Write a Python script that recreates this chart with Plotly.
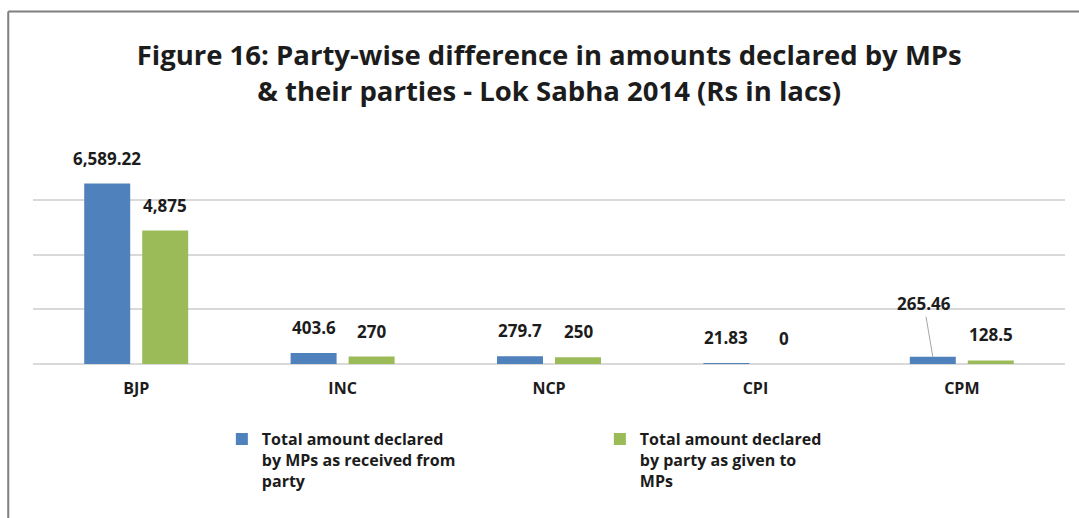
import plotly.graph_objects as go

parties = ["BJP", "INC", "NCP", "CPI", "CPM"]
mp_declared = [6589.22, 403.6, 279.7, 21.83, 265.46]
party_declared = [4875, 270, 250, 0, 128.5]
mp_labels = ["6,589.22", "403.6", "279.7", "21.83", "265.46"]
party_labels = ["4,875", "270", "250", "0", "128.5"]
series_names = ["Total amount declared<br>by MPs as received from<br>party",
                "Total amount declared<br>by party as given to<br>MPs"]
colors = ["#4F81BD", "#9BBB59"]

FONT = "Open Sans"
TXT = "#1c1c1c"
LBL = dict(family=FONT, size=17, color=TXT, weight="bold")

fig = go.Figure()
fig.add_trace(go.Bar(x=parties, y=mp_declared, name=series_names[0],
                     marker=dict(color=colors[0], line=dict(width=0))))
fig.add_trace(go.Bar(x=parties, y=party_declared, name=series_names[1],
                     marker=dict(color=colors[1], line=dict(width=0))))

annotations = []
for i, p in enumerate(parties):
    if p == "CPM":
        annotations.append(dict(x=p, y=mp_declared[i], xref="x", yref="y", xshift=-29,
                                text=mp_labels[i], showarrow=True, arrowhead=0,
                                arrowwidth=1, arrowcolor="#a6a6a6", ax=-9, ay=-53,
                                font=LBL))
    else:
        annotations.append(dict(x=p, y=mp_declared[i], xref="x", yref="y", xshift=-29,
                                yshift=12, yanchor="bottom", text=mp_labels[i],
                                showarrow=False, font=LBL))
    annotations.append(dict(x=p, y=party_declared[i], xref="x", yref="y", xshift=29,
                            yshift=12, yanchor="bottom", text=party_labels[i],
                            showarrow=False, font=LBL))

fig.update_layout(
    width=1079, height=518,
    paper_bgcolor="white", plot_bgcolor="white",
    margin=dict(l=33, r=14, t=145, b=154),
    barmode="group", bargap=0.438, bargroupgap=0.207,
    title=dict(text="Figure 16: Party-wise difference in amounts declared by MPs<br>&amp; their parties - Lok Sabha 2014 (Rs in lacs)",
               x=0.509, xanchor="center", y=0.874, yanchor="middle",
               font=dict(family=FONT, size=27.5, color=TXT, weight="bold")),
    xaxis=dict(showgrid=False, showline=False, ticks="", ticklabelstandoff=13,
               tickfont=dict(family=FONT, size=16, color=TXT, weight="bold")),
    yaxis=dict(range=[0, 8000], dtick=2000, showticklabels=False,
               showgrid=True, gridcolor="#d9d9d9", gridwidth=1.5,
               zeroline=True, zerolinecolor="#d9d9d9", zerolinewidth=1.5),
    legend=dict(orientation="h", x=0.183, xanchor="left", y=-0.265, yanchor="top",
                entrywidth=333, valign="top",
                font=dict(family=FONT, size=16, color=TXT, weight="bold"),
                traceorder="normal", bgcolor="rgba(0,0,0,0)"),
    annotations=annotations,
    shapes=[
        dict(type="line", xref="paper", yref="paper", x0=-0.024, x1=1.02,
             y0=1.61, y1=1.61, line=dict(color="#7f7f7f", width=2), layer="above"),
        dict(type="line", xref="paper", yref="paper", x0=-0.024, x1=-0.024,
             y0=1.61, y1=-0.75, line=dict(color="#7f7f7f", width=2), layer="above"),
    ],
    showlegend=True,
)

fig.write_html("out.html", config={"displayModeBar": False},
               post_script="document.body.style.margin='0';")
